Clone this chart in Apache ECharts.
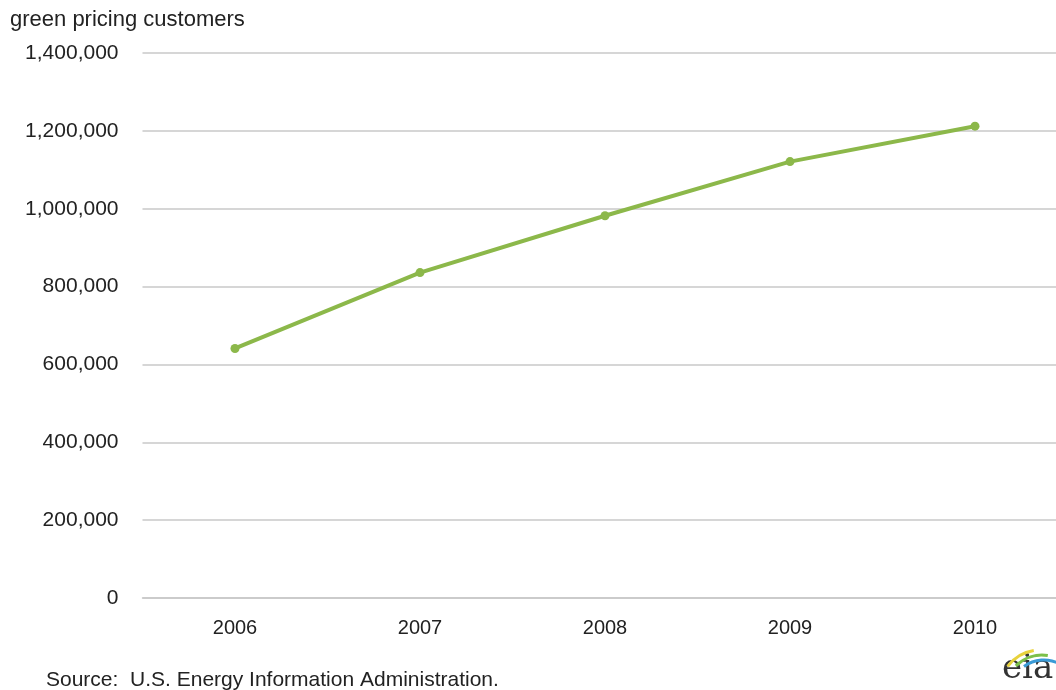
<!DOCTYPE html>
<html>
<head>
<meta charset="utf-8">
<script src="https://cdn.jsdelivr.net/npm/echarts@6/dist/echarts.min.js"></script>
<style>
html,body{margin:0;padding:0;background:#fff;overflow:hidden;width:1056px;height:690px;}
#chart{width:1068px;height:690px;}
</style>
</head>
<body>
<div id="chart"></div>
<script>
const categories = ['2006', '2007', '2008', '2009', '2010'];
const customers = [641000, 836000, 982000, 1121000, 1212000];
const yTicks = [0, 200000, 400000, 600000, 800000, 1000000, 1200000, 1400000];

const chart = echarts.init(document.getElementById('chart'));
const font = 'Liberation Sans, Arial, sans-serif';
chart.setOption({
  animation: false,
  backgroundColor: '#ffffff',
  grid: { left: 142.5, top: 53, right: 0.5, bottom: 92, containLabel: false },
  xAxis: {
    type: 'category',
    data: categories,
    boundaryGap: true,
    axisLine: { show: true, lineStyle: { color: '#c8c8c8', width: 1.5 } },
    axisTick: { show: false },
    axisLabel: { color: '#222', fontSize: 20, fontFamily: font, margin: 20 }
  },
  yAxis: {
    type: 'value',
    min: yTicks[0],
    max: yTicks[yTicks.length - 1],
    interval: 200000,
    axisLine: { show: false },
    axisTick: { show: false },
    splitLine: { lineStyle: { color: '#c8c8c8', width: 1.5 } },
    axisLabel: {
      color: '#222', fontSize: 21, fontFamily: font, margin: 24,
      formatter: v => v.toLocaleString('en-US')
    }
  },
  series: [{
    type: 'line',
    data: customers,
    symbol: 'circle',
    symbolSize: 9,
    lineStyle: { color: '#8cb84a', width: 4 },
    itemStyle: { color: '#8cb84a' }
  }],
  graphic: [
    { type: 'text', left: 10, top: 9, style: { text: 'green pricing customers', fill: '#222', font: '22px ' + font } },
    { type: 'text', left: 46, top: 670, style: { text: 'Source:  U.S. Energy Information Administration.', fill: '#222', font: '21px ' + font } },
    { type: 'text', left: 1002, top: 652, style: { text: 'eia', fill: '#333', font: '34px DejaVu Serif, serif' } },
    { type: 'arc', shape: { cx: 1040, cy: 690, r: 40, startAngle: Math.PI * 1.2, endAngle: Math.PI * 1.45 }, style: { stroke: '#e8d23c', lineWidth: 3, fill: null } },
    { type: 'arc', shape: { cx: 1042, cy: 692, r: 37, startAngle: Math.PI * 1.25, endAngle: Math.PI * 1.55 }, style: { stroke: '#7cc04a', lineWidth: 3, fill: null } },
    { type: 'arc', shape: { cx: 1044, cy: 694, r: 34, startAngle: Math.PI * 1.3, endAngle: Math.PI * 1.65 }, style: { stroke: '#3a9ad6', lineWidth: 3, fill: null } }
  ]
});
</script>
</body>
</html>
